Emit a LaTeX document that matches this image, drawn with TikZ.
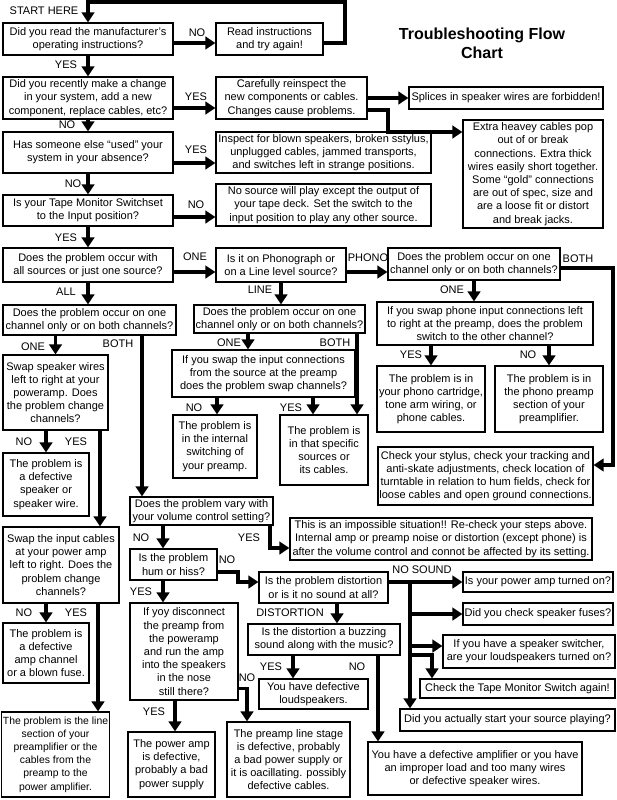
\documentclass[tikz,border=0pt]{standalone}
\usepackage{fontspec}
\setmainfont{Liberation Sans}
\usetikzlibrary{arrows.meta}
\newcommand\myfs{\fontsize{11}{13.2}\selectfont}
\newcommand\bx[7][]{%
  \pgfmathsetmacro\bxw{#5-#3}%
  \pgfmathsetmacro\bxh{#6-#4}%
  \pgfmathsetmacro\bxx{(#3+#5)/2}%
  \pgfmathsetmacro\bxy{(#4+#6)/2}%
  \node[box,minimum width=\bxw pt,minimum height=\bxh pt,#1] (#2) at (\bxx,\bxy) {#7};}
\begin{document}
\begin{tikzpicture}[x=1pt,y=-1pt,
  box/.style={draw,line width=1.1pt,inner xsep=1pt,inner ysep=1pt,align=center,font=\myfs,fill=white},
  lbl/.style={font=\myfs,inner sep=0pt},
  arr/.style={line width=3.2pt,-{Triangle[length=10pt,width=12.5pt]}}]
\fill[white] (0,0) rectangle (616,800);
\useasboundingbox (0,0) rectangle (616,800);

\node[font=\fontsize{16}{19}\selectfont\bfseries,align=center] (title) at (482,43) {Troubleshooting Flow\\Chart};

% left column
\bx{q1}{3}{23}{173}{55}{Did you read the manufacturer’s\\operating instructions?}
\bx{read}{216}{23}{323}{55}{Read instructions\\and try again!}
\bx{q2}{3}{77}{173}{119}{Did you recently make a change\\in your system, add a new\\component, replace cables, etc?}
\bx{care}{216}{77}{367}{119}{Carefully reinspect the\\new components or cables.\\Changes cause problems.}
\bx{splice}{409}{87}{603}{109}{Splices in speaker wires are forbidden!}
\bx{heavy}{463}{120}{603}{228}{Extra heavey cables pop\\out of or break\\connections. Extra thick\\wires easily short together.\\Some “gold” connections\\are out of spec, size and\\are a loose fit or distort\\and break jacks.}
\bx{q3}{3}{132}{173}{173}{Has someone else “used” your\\system in your absence?}
\bx{inspect}{216}{132}{431}{173}{Inspect for blown speakers, broken sstylus,\\unplugged cables, jammed transports,\\and switches left in strange positions.}
\bx{q4}{3}{195}{173}{226}{Is your Tape Monitor Switchset\\to the Input position?}
\bx{nosrc}{216}{184}{431}{226}{No source will play except the output of\\your tape deck. Set the switch to the\\input position to play any other source.}
\bx{q5}{3}{248}{173}{282}{Does the problem occur with\\all sources or just one source?}
\bx{phono}{216}{248}{346}{282}{Is it on Phonograph or\\on a Line level source?}
\bx{pch}{388}{248}{560}{280}{Does the problem occur on one\\channel only or on both channels?}
\bx{pswap}{377}{302}{593}{345}{If you swap phone input connections left\\to right at the preamp, does the problem\\switch to the other channel?}
\bx{pcart}{377}{366}{485}{432}{The problem is in\\your phono cartridge,\\tone arm wiring, or\\phone cables.}
\bx{ppre}{495}{366}{603}{432}{The problem is in\\the phono preamp\\section of your\\preamplifier.}
\bx{check}{378}{447}{593}{505}{Check your stylus, check your tracking and\\anti-skate adjustments, check location of\\turntable in relation to hum fields, check for\\loose cables and open ground connections.}
\bx{q6}{3}{305}{176}{335}{Does the problem occur on one\\channel only or on both channels?}
\bx{swapspk}{3}{355}{108}{430}{Swap speaker wires\\left to right at your\\poweramp. Does\\the problem change\\channels?}
\bx{defspk}{3}{453}{89}{516}{The problem is\\a defective\\speaker or\\speaker wire.}
\bx{swapin}{3}{527}{119}{603}{Swap the input cables\\at your power amp\\left to right. Does the\\problem change\\channels?}
\bx{defamp}{3}{623}{89}{683}{The problem is\\a defective\\amp channel\\or a blown fuse.}
\bx[font=\fontsize{10.4}{13.2}\selectfont]{linesec}{3}{712}{108}{797}{The problem is the line\\section of your\\preamplifier or the\\cables from the\\preamp to the\\power amplifier.}
\bx{lq}{194}{305}{365}{333}{Does the problem occur on one\\channel only or on both channels?}
\bx{lswap}{172}{350}{355}{397}{If you swap the input connections\\from the source at the preamp\\does the problem swap channels?}
\bx{lint}{173}{415}{257}{478}{The problem is\\in the internal\\switching of\\your preamp.}
\bx{lspec}{280}{415}{368}{485}{The problem is\\in that specific\\sources or\\its cables.}
\bx{vary}{130}{497}{273}{525}{Does the problem vary with\\your volume control setting?}
\bx{imposs}{290}{518}{592}{560}{This is an impossible situation!! Re-check your steps above.\\Internal amp or preamp noise or distortion (except phone) is\\after the volume control and connot be affected by its setting.}
\bx{hum}{130}{549}{217}{580}{Is the problem\\hum or hiss?}
\bx{dist}{259}{572}{388}{603}{Is the problem distortion\\or is it no sound at all?}
\bx{buzz}{248}{624}{400}{655}{Is the distortion a buzzing\\sound along with the music?}
\bx{disc}{130}{603}{238}{700}{If yoy disconnect\\the preamp from\\the poweramp\\and run the amp\\into the speakers\\in the nose\\still there?}
\bx{defloud}{259}{679}{368}{709}{You have defective\\loudspeakers.}
\bx{pwrdef}{128}{732}{215}{797}{The power amp\\is defective,\\probably a bad\\power supply}
\bx{prestage}{227}{722}{350}{797}{The preamp line stage\\is defective, probably\\a bad power supply or\\it is oacillating. possibly\\defective cables.}
\bx{defampw}{368}{742}{582}{795}{You have a defective amplifier or you have\\an improper load and too many wires\\or defective speaker wires.}
\bx{pwron}{463}{572}{613}{592}{Is your power amp turned on?}
\bx{fuses}{463}{603}{613}{625}{Did you check speaker fuses?}
\bx{switcher}{443}{635}{615}{668}{If you have a speaker switcher,\\are your loudspeakers turned on?}
\bx{tapemon}{420}{679}{615}{698}{Check the Tape Monitor Switch again!}
\bx{started}{400}{709}{615}{731}{Did you actually start your source playing?}

% labels
\node[lbl] (lstart) at (44,11) {START HERE};
\node[lbl] at (197,33) {NO};
\node[lbl] at (66,65) {YES};
\node[lbl] at (196,97) {YES};
\node[lbl] at (67,125) {NO};
\node[lbl] at (196,150) {YES};
\node[lbl] at (73,184) {NO};
\node[lbl] at (196,205) {NO};
\node[lbl] at (66,238) {YES};
\node[lbl] at (195,257) {ONE};
\node[lbl] at (66,292) {ALL};
\node[lbl] at (368,258) {PHONO};
\node[lbl] at (578,259) {BOTH};
\node[lbl] at (452,290) {ONE};
\node[lbl] at (260,290) {LINE};
\node[lbl] at (411,355) {YES};
\node[lbl] at (528,355) {NO};
\node[lbl] at (33,347) {ONE};
\node[lbl] at (118,344) {BOTH};
\node[lbl] at (229,343) {ONE};
\node[lbl] at (335,343) {BOTH};
\node[lbl] at (194,408) {NO};
\node[lbl] at (291,408) {YES};
\node[lbl] at (24,442) {NO};
\node[lbl] at (76,442) {YES};
\node[lbl] at (24,613) {NO};
\node[lbl] at (76,613) {YES};
\node[lbl] at (141,538) {NO};
\node[lbl] at (249,538) {YES};
\node[lbl] at (227,560) {NO};
\node[lbl] at (141,592) {YES};
\node[lbl] at (422,570) {NO SOUND};
\node[lbl] at (290,613) {DISTORTION};
\node[lbl] at (271,667) {YES};
\node[lbl] at (357,667) {NO};
\node[lbl] at (154,712) {YES};
\node[lbl] at (247,678) {NO};

% connectors
\draw[arr] ([yshift=-4pt]read.east) -| (345,2) -| (q1.north);
\draw[arr] ([yshift=-4pt]q1.east) -- ([yshift=-4pt]q1.east -| read.west);
\draw[arr] (q1.south) -- (q1.south |- q2.north);
\draw[arr] ([yshift=-10pt]q2.east) -- ([yshift=-10pt]q2.east -| care.west);
\draw[arr] (care.east) -- (care.east -| splice.west);
\draw[arr] ([yshift=-12pt]care.east) -| (388,132) -- (388,132 -| heavy.west);
\draw[arr] (q2.south) -- (q2.south |- q3.north);
\draw[arr] ([yshift=-10.5pt]q3.east) -- ([yshift=-10.5pt]q3.east -| inspect.west);
\draw[arr] (q3.south) -- (q3.south |- q4.north);
\draw[arr] ([yshift=-6.5pt]q4.east) -- ([yshift=-6.5pt]q4.east -| nosrc.west);
\draw[arr] (q4.south) -- (q4.south |- q5.north);
\draw[arr] ([yshift=-7pt]q5.east) -- ([yshift=-7pt]q5.east -| phono.west);
\draw[arr] (q5.south) -- (q5.south |- q6.north);
\draw[arr] ([yshift=-7pt]phono.east) -- ([yshift=-7pt]phono.east -| pch.west);
\draw[arr] ([yshift=-4pt]pch.east) -| (613,465) -- (613,465 -| check.east);
\draw[arr] (pch.south) -- (pch.south |- pswap.north);
\draw[arr] (pcart.north |- pswap.south) -- (pcart.north);
\draw[arr] (ppre.north |- pswap.south) -- (ppre.north);
\draw[arr] (phono.south) -- (phono.south |- lq.north);
\draw[arr] (swapspk.north |- q6.south) -- (swapspk.north);
\draw[arr] ([xshift=52.5pt]q6.south) -- ([xshift=52.5pt]q6.south |- vary.north);
\draw[arr] (defspk.north |- swapspk.south) -- (defspk.north);
\draw[arr] ([xshift=44.5pt]swapspk.south) -- ([xshift=44.5pt]swapspk.south |- swapin.north);
\draw[arr] (defamp.north |- swapin.south) -- (defamp.north);
\draw[arr] ([xshift=37pt]swapin.south) -- ([xshift=37pt]swapin.south |- linesec.north);
\draw[arr] ([xshift=-31.5pt]lq.south) -- ([xshift=-31.5pt]lq.south |- lswap.north);
\draw[arr] ([xshift=77.5pt]lq.south) -- ([xshift=77.5pt]lq.south |- lspec.north);
\draw[arr] ([xshift=2pt]lint.north |- lswap.south) -- ([xshift=2pt]lint.north);
\draw[arr] ([xshift=-11pt]lspec.north |- lswap.south) -- ([xshift=-11pt]lspec.north);
\draw[arr] ([xshift=-10.5pt]hum.north |- vary.south) -- ([xshift=-10.5pt]hum.north);
\draw[arr] ([xshift=68.5pt]vary.south) |- ([yshift=-9pt]imposs.west);
\draw[arr] ([yshift=-7.5pt]hum.east) -| (238,582) -- (238,582 -| dist.west);
\draw[arr] ([xshift=-10.5pt]hum.south) -- ([xshift=-10.5pt]hum.south |- disc.north);
\draw[arr] ([xshift=13.5pt]dist.south) -- ([xshift=13.5pt]dist.south |- buzz.north);
\coordinate (j) at (410,582);
\draw[arr] ([yshift=5.5pt]dist.east) -- ([yshift=5.5pt]dist.east -| pwron.west);
\draw[arr] (j) -- (j |- started.north);
\draw[arr] (j |- fuses.west) -- (fuses.west);
\draw[arr] (j |- 0,646) -- (switcher.west |- 0,646);
\draw[arr] (j |- 0,655) -| ([xshift=-85.5pt]tapemon.north);
\draw[arr] ([xshift=-20.5pt]defloud.north |- buzz.south) -- ([xshift=-20.5pt]defloud.north);
\draw[arr] ([xshift=54pt]buzz.south) -- ([xshift=54pt]buzz.south |- defampw.north);
\draw[arr] ([xshift=3.5pt]pwrdef.north |- disc.south) -- ([xshift=3.5pt]pwrdef.north);
\draw[arr] ([yshift=-37pt]disc.east) -| ([xshift=-41.5pt]prestage.north);
\end{tikzpicture}
\end{document}
